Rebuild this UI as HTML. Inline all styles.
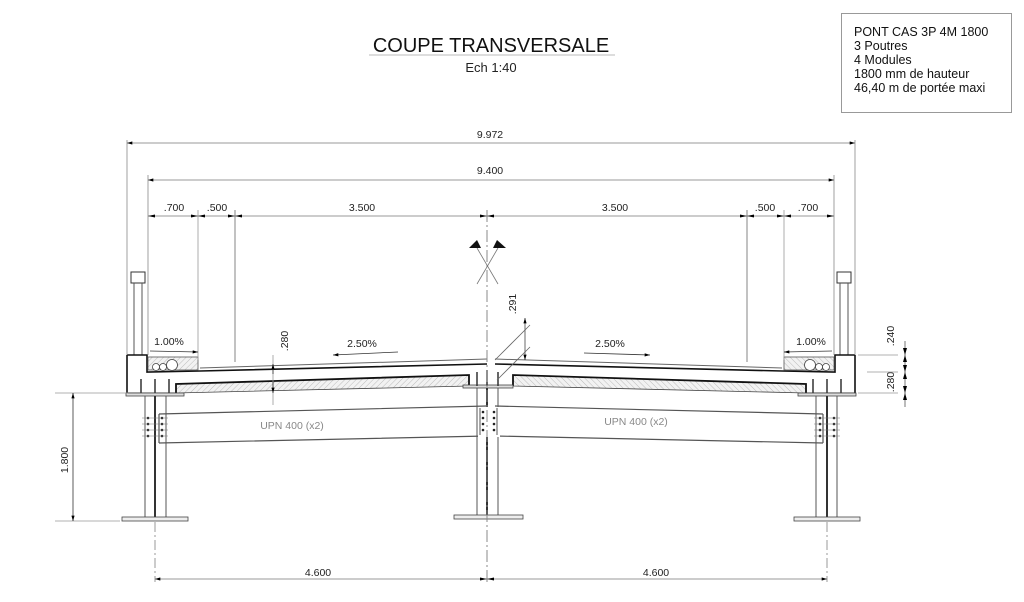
<!DOCTYPE html>
<html><head><meta charset="utf-8"><style>
html,body{margin:0;padding:0;background:#fff;}
svg{display:block;font-family:"Liberation Sans",sans-serif;}
</style></head><body>
<svg width="1024" height="602" viewBox="0 0 1024 602" xmlns="http://www.w3.org/2000/svg">
<defs>
<pattern id="hat" width="4" height="4" patternUnits="userSpaceOnUse" patternTransform="rotate(45)">
<rect width="4" height="4" fill="#f2f2f2"/><line x1="0" y1="0" x2="0" y2="4" stroke="#bbb" stroke-width="1"/></pattern>
<marker id="ar" viewBox="0 0 10 6" refX="10" refY="3" markerWidth="8" markerHeight="4" orient="auto-start-reverse"><path d="M0,0L10,3L0,6z" fill="#000"/></marker>
<g id="half">
 <rect x="131" y="272" width="14" height="11" fill="#fff" stroke="#333" stroke-width="1"/>
 <line x1="134" y1="283" x2="134" y2="355" stroke="#555"/>
 <line x1="142" y1="283" x2="142" y2="355" stroke="#555"/>
 <path d="M127,355 H147 V372 L200,371 L487,364 M127,355 V393" fill="none" stroke="#111" stroke-width="1.6"/>
 <path d="M200,368 L487,359" fill="none" stroke="#666" stroke-width="1"/>
 <rect x="148" y="357" width="50" height="13" fill="url(#hat)" stroke="#555" stroke-width="0.8"/>
 <circle cx="156" cy="367" r="3.5" fill="#fff" stroke="#444" stroke-width="0.8"/>
 <circle cx="163" cy="367" r="3.5" fill="#fff" stroke="#444" stroke-width="0.8"/>
 <circle cx="172" cy="365" r="5.5" fill="#fff" stroke="#444" stroke-width="0.8"/>
 <!-- hatched box -->
 <path d="M176,384 L469,375 V386 L176,393 Z" fill="url(#hat)" stroke="#444" stroke-width="0.8"/>
 <path d="M176,393 V384 L469,375 V386" fill="none" stroke="#111" stroke-width="1.8"/>
 <line x1="127" y1="393" x2="176" y2="393" stroke="#222" stroke-width="1"/>
 <line x1="141" y1="379" x2="141" y2="393" stroke="#333" stroke-width="1.5"/>
 <line x1="155" y1="379" x2="155" y2="393" stroke="#333" stroke-width="1.5"/>
 <line x1="169" y1="379" x2="169" y2="393" stroke="#333" stroke-width="1.5"/>
 <rect x="126" y="393" width="58" height="3" fill="#ddd" stroke="#444" stroke-width="0.8"/>
 <line x1="145" y1="396" x2="145" y2="518" stroke="#555"/>
 <line x1="166" y1="396" x2="166" y2="518" stroke="#555"/>
 <line x1="155" y1="396" x2="155" y2="518" stroke="#333" stroke-width="2"/>
 <rect x="122" y="517" width="66" height="4" fill="#eee" stroke="#444" stroke-width="0.8"/>
 <line x1="155" y1="522" x2="155" y2="582" stroke="#999" stroke-dasharray="10,3,2,3"/>
 <path d="M159,414 L487,406 M159,443 L487,436 M159,414 V443" fill="none" stroke="#555" stroke-width="1.2"/>
 <g fill="#222">
  <circle cx="148" cy="418" r="1.3"/><circle cx="148" cy="424" r="1.3"/><circle cx="148" cy="430" r="1.3"/><circle cx="148" cy="436" r="1.3"/>
  <circle cx="162" cy="418" r="1.3"/><circle cx="162" cy="424" r="1.3"/><circle cx="162" cy="430" r="1.3"/><circle cx="162" cy="436" r="1.3"/>
 </g>
 <g stroke="#777" stroke-width="0.6"><line x1="142" y1="418" x2="168" y2="418"/><line x1="142" y1="424" x2="168" y2="424"/><line x1="142" y1="430" x2="168" y2="430"/><line x1="142" y1="436" x2="168" y2="436"/></g>
 <line x1="127" y1="140" x2="127" y2="355" stroke="#888" stroke-width="0.8"/>
 <line x1="148" y1="175" x2="148" y2="355" stroke="#888" stroke-width="0.8"/>
 <line x1="198" y1="210" x2="198" y2="360" stroke="#999" stroke-width="0.8"/>
 <line x1="235" y1="210" x2="235" y2="362" stroke="#666" stroke-width="0.8"/>
 <line x1="150" y1="351" x2="198" y2="352" stroke="#333" stroke-width="0.8" marker-end="url(#ar)"/>
</g>
</defs>

<text x="491" y="52" font-size="20" text-anchor="middle" fill="#111">COUPE TRANSVERSALE</text>
<line x1="369" y1="55" x2="615" y2="55" stroke="#bbb" stroke-width="1"/>
<text x="491" y="72" font-size="13" text-anchor="middle" fill="#222">Ech  1:40</text>
<rect x="841.5" y="13.5" width="170" height="99" fill="#fff" stroke="#999"/>
<g font-size="12.5" fill="#111">
<text x="854" y="36">PONT CAS 3P 4M 1800</text>
<text x="854" y="50">3 Poutres</text>
<text x="854" y="64">4 Modules</text>
<text x="854" y="78">1800 mm de hauteur</text>
<text x="854" y="92">46,40 m de portée maxi</text>
</g>

<use href="#half"/>
<use href="#half" transform="translate(982,0) scale(-1,1)"/>

<rect x="463" y="385" width="50" height="3" fill="#ddd" stroke="#444" stroke-width="0.8"/>
<line x1="477" y1="388" x2="477" y2="516" stroke="#555"/>
<line x1="498" y1="388" x2="498" y2="516" stroke="#555"/>
<line x1="487" y1="388" x2="487" y2="516" stroke="#333" stroke-width="2"/>
<rect x="454" y="515" width="69" height="4" fill="#eee" stroke="#444" stroke-width="0.8"/>
<g stroke="#333" stroke-width="1.5"><line x1="477" y1="372" x2="477" y2="386"/><line x1="487" y1="370" x2="487" y2="386"/><line x1="498" y1="372" x2="498" y2="386"/></g>
<rect x="478" y="407" width="22" height="30" fill="#fff" stroke="none"/>
<g fill="#222">
<circle cx="483" cy="412" r="1.3"/><circle cx="483" cy="418" r="1.3"/><circle cx="483" cy="424" r="1.3"/><circle cx="483" cy="430" r="1.3"/>
<circle cx="494" cy="412" r="1.3"/><circle cx="494" cy="418" r="1.3"/><circle cx="494" cy="424" r="1.3"/><circle cx="494" cy="430" r="1.3"/>
</g>
<line x1="480" y1="408" x2="480" y2="435" stroke="#555"/><line x1="497" y1="408" x2="497" y2="435" stroke="#555"/>
<line x1="487" y1="210" x2="487" y2="582" stroke="#888" stroke-width="1" stroke-dasharray="12,3,2,3"/>
<g stroke="#777" stroke-width="0.8"><line x1="477" y1="248" x2="498" y2="284"/><line x1="498" y1="248" x2="477" y2="284"/></g>
<path d="M469,248 L477,240 L481,248 Z" fill="#111"/>
<path d="M497,240 L506,248 L493,248 Z" fill="#111"/>

<g stroke="#777" stroke-width="0.8">
<line x1="127" y1="143" x2="855" y2="143" marker-start="url(#ar)" marker-end="url(#ar)"/>
<line x1="148" y1="180" x2="834" y2="180" marker-start="url(#ar)" marker-end="url(#ar)"/>
<line x1="148" y1="216" x2="834" y2="216"/>
</g>
<g fill="#000">
<path d="M148,216l7,-1.5v3z"/><path d="M198,216l-7,-1.5v3z"/><path d="M198,216l7,-1.5v3z"/><path d="M235,216l-7,-1.5v3z"/><path d="M235,216l7,-1.5v3z"/><path d="M487,216l-7,-1.5v3z"/><path d="M487,216l7,-1.5v3z"/>
<path d="M834,216l-7,-1.5v3z"/><path d="M784,216l7,-1.5v3z"/><path d="M784,216l-7,-1.5v3z"/><path d="M747,216l7,-1.5v3z"/><path d="M747,216l-7,-1.5v3z"/>
</g>
<g font-size="10.5" fill="#222" text-anchor="middle">
<text x="490" y="138">9.972</text>
<text x="490" y="174">9.400</text>
<text x="174" y="211">.700</text>
<text x="217" y="211">.500</text>
<text x="362" y="211">3.500</text>
<text x="615" y="211">3.500</text>
<text x="765" y="211">.500</text>
<text x="808" y="211">.700</text>
<text x="169" y="345">1.00%</text>
<text x="811" y="345">1.00%</text>
<text x="362" y="347">2.50%</text>
<text x="610" y="347">2.50%</text>
<text x="318" y="576">4.600</text>
<text x="656" y="576">4.600</text>
<text x="292" y="429" fill="#888">UPN 400 (x2)</text>
<text x="636" y="425" fill="#888">UPN 400 (x2)</text>
<text transform="translate(288,341) rotate(-90)">.280</text>
<text transform="translate(516,304) rotate(-90)">.291</text>
<text transform="translate(894,336) rotate(-90)">.240</text>
<text transform="translate(894,382) rotate(-90)">.280</text>
<text transform="translate(68,460) rotate(-90)">1.800</text>
</g>
<g stroke="#333" stroke-width="0.8">
<line x1="398" y1="352" x2="333" y2="355" marker-end="url(#ar)"/>
<line x1="584" y1="353" x2="650" y2="355" marker-end="url(#ar)"/>
<line x1="273" y1="355" x2="273" y2="405" stroke="#999"/>
<line x1="273" y1="364" x2="273" y2="374" marker-start="url(#ar)"/>
<line x1="273" y1="382" x2="273" y2="393" marker-end="url(#ar)"/>
<line x1="525" y1="318" x2="525" y2="360" stroke="#444" marker-start="url(#ar)" marker-end="url(#ar)"/>
<line x1="495" y1="360" x2="530" y2="325" stroke="#666"/>
<line x1="497" y1="380" x2="530" y2="347" stroke="#666"/>
<line x1="858" y1="355" x2="898" y2="355" stroke="#999"/>
<line x1="867" y1="372" x2="898" y2="372" stroke="#999"/>
<line x1="858" y1="393" x2="898" y2="393" stroke="#999"/>
<line x1="905" y1="341" x2="905" y2="407" stroke="#555"/>
<line x1="55" y1="393" x2="128" y2="393" stroke="#999"/>
<line x1="55" y1="521" x2="120" y2="521" stroke="#999"/>
<line x1="73" y1="393" x2="73" y2="521" marker-start="url(#ar)" marker-end="url(#ar)"/>
<line x1="155" y1="579" x2="827" y2="579" stroke="#777" marker-start="url(#ar)" marker-end="url(#ar)"/>
</g>
<g fill="#000">
<path d="M905,355l-2,-7h4z"/><path d="M905,355l-2,7h4z"/><path d="M905,372l-2,-7h4z"/><path d="M905,372l-2,7h4z"/><path d="M905,393l-2,-7h4z"/><path d="M905,393l-2,7h4z"/>
<path d="M487,579l-7,-1.5v3z"/><path d="M487,579l7,-1.5v3z"/>
</g>
</svg>
</body></html>
